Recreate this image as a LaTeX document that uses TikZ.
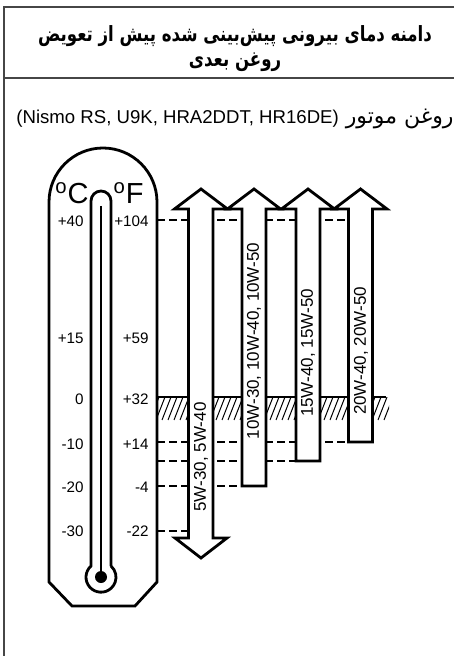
\documentclass[tikz,border=0pt]{standalone}
\usepackage{fontspec}
\setmainfont{Liberation Sans}
\newfontfamily\persfont[Script=Arabic]{DejaVu Sans}
\TeXXeTstate=1
\definecolor{frameC}{RGB}{70,70,70}

\begin{document}
\begin{tikzpicture}[x=0.5pt,y=-0.5pt,line join=miter,
  outl/.style={line width=1.4pt},
  dsh/.style={line width=1.2pt,dash pattern=on 4pt off 2pt},
  tlab/.style={font=\fontsize{7.6}{8}\selectfont,anchor=east,inner sep=0pt},
  olab/.style={font=\fontsize{8.5}{9}\selectfont,rotate=90,inner sep=0pt}]
\useasboundingbox (0,0) rectangle (454,656);
% frame and header
\draw[frameC,line width=0.6pt] (454,7) -- (4,7) -- (4,656);
\draw[frameC,line width=0.6pt] (4,78) -- (454,78);
\node[font=\persfont\bfseries\fontsize{10.5}{12.5}\selectfont,align=center,inner sep=0pt] (title) at (235,49)
  {\scalebox{0.79}[1]{\beginR دامنه دمای بیرونی پیش‌بینی شده پیش از تعویض\endR}\\
   \scalebox{0.79}[1]{\beginR روغن بعدی\endR}};
\node[anchor=east,inner sep=0pt] (engine) at (454,119)
  {\persfont\fontsize{11}{12}\selectfont\beginR روغن موتور \beginL\rmfamily\fontsize{9.3}{10}\selectfont(Nismo RS, U9K, HRA2DDT, HR16DE)\endL\endR};
% hatched band at 0 C
\begin{scope}
\clip (157,397) rectangle (389,420);
\foreach \i in {0,...,40} \draw[line width=0.5pt] (150+6*\i,420) -- ++(9,-23);
\end{scope}
\draw[line width=1pt] (157,397) -- (386,397);
% dashed levels
\draw[dsh] (157,220) -- (348,220);
\draw[dsh] (157,442) -- (348,442);
\draw[dsh] (157,461) -- (296,461);
\draw[dsh] (157,486) -- (242,486);
\draw[dsh] (157,531) -- (188,531);
% oil arrows
\draw[outl,fill=white] (188.5,209) -- (174.5,209) -- (201,189) -- (227.5,209) -- (213,209) -- (213,538)
  -- (227,538) -- (201,558) -- (175,538) -- (188.5,538) -- cycle;
\foreach \c/\b in {254/486,308/461,360.5/442}
  \draw[outl,fill=white] (\c-12,\b) -- (\c-12,209) -- (\c-26.5,209) -- (\c,189) -- (\c+26.5,209)
    -- (\c+12,209) -- (\c+12,\b) -- cycle;
\node[olab] (oil5) at (201,457) {5W-30, 5W-40};
\node[olab] (oil10) at (254,341) {10W-30, 10W-40, 10W-50};
\node[olab] (oil15) at (308,353) {15W-40, 15W-50};
\node[olab] (oil20) at (361,351) {20W-40, 20W-50};
% thermometer
\draw[outl,fill=white] (49,582) -- (49,202) arc[start angle=180,end angle=0,radius=27pt] -- (157,582)
  -- (135,606) -- (72,606) -- cycle;
\draw[outl] (111,566) -- (111,201) arc[start angle=0,end angle=180,radius=5pt] -- (91,566)
  arc[start angle=131.8,end angle=408.2,radius=7.5pt];
\draw[line width=1pt] (101,206) -- (101,577);
\fill (101,577) circle[radius=3pt];
\node[font=\fontsize{14.5}{15}\selectfont,inner sep=0pt] (degC) at (72,193) {\textsuperscript{o}C};
\node[font=\fontsize{14.5}{15}\selectfont,inner sep=0pt] (degF) at (128.5,193) {\textsuperscript{o}F};
\foreach \y/\cc/\ff [count=\k] in {221/+40/+104,338/+15/+59,399/0/+32,444/-10/+14,487/-20/-4,531/-30/-22} {
  \node[tlab] (c\k) at (84,\y) {\cc};
  \node[tlab] (f\k) at (149,\y) {\ff};
}
\end{tikzpicture}
\end{document}
